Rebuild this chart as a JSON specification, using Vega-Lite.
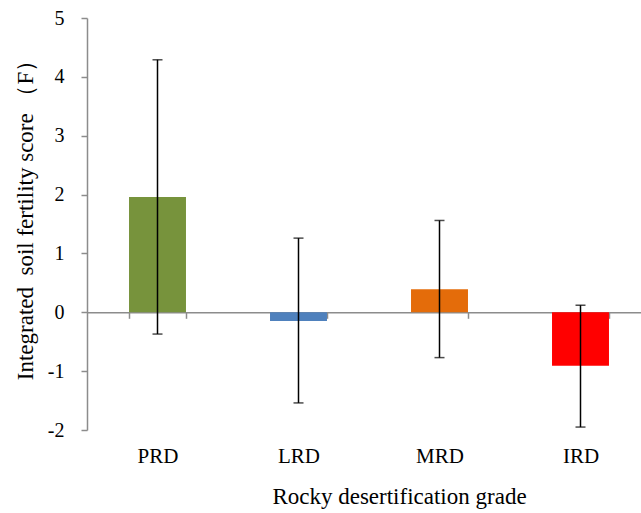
{
  "$schema": "https://vega.github.io/schema/vega-lite/v6.json",
  "autosize": {"type": "none"},
  "padding": {"left": 87, "top": 18, "right": 0, "bottom": 83},
  "width": 554,
  "height": 412,
  "background": "white",
  "config": {
    "view": {"stroke": null},
    "font": "Liberation Serif"
  },
  "data": {
    "values": [
      {"grade": "PRD", "score": 1.96, "lo": -0.37, "hi": 4.29},
      {"grade": "LRD", "score": -0.15, "lo": -1.54, "hi": 1.26},
      {"grade": "MRD", "score": 0.39, "lo": -0.77, "hi": 1.56},
      {"grade": "IRD", "score": -0.91, "lo": -1.95, "hi": 0.12}
    ]
  },
  "encoding": {
    "x": {
      "field": "grade",
      "type": "nominal",
      "sort": ["PRD", "LRD", "MRD", "IRD"],
      "scale": {"range": [0, 564], "paddingInner": 0.596, "paddingOuter": 0.298},
      "axis": {
        "orient": "bottom",
        "offset": -117.7,
        "labelAngle": 0,
        "domainColor": "#8c8c8c",
        "domainWidth": 1.5,
        "tickColor": "#8c8c8c",
        "tickWidth": 1.5,
        "tickSize": 6,
        "tickBand": "extent",
        "labelPadding": 127,
        "labelBaseline": "top",
        "labelFont": "Liberation Serif",
        "labelFontSize": 21,
        "labelColor": "#000000",
        "title": "Rocky desertification grade",
        "titleFont": "Liberation Serif",
        "titleFontSize": 23,
        "titleFontWeight": "normal",
        "titleColor": "#000000",
        "titleBaseline": "top",
        "titleAlign": "center",
        "titleX": 312,
        "titleY": 173
      }
    }
  },
  "layer": [
    {
      "mark": {"type": "bar"},
      "encoding": {
        "y": {
          "field": "score",
          "type": "quantitative",
          "scale": {"domain": [-2, 5], "nice": false, "zero": false},
          "axis": {
            "values": [-2, -1, 0, 1, 2, 3, 4, 5],
            "labelExpr": "'' + datum.value",
            "grid": false,
            "domainColor": "#8c8c8c",
            "domainWidth": 1.5,
            "tickColor": "#8c8c8c",
            "tickWidth": 1.5,
            "tickSize": 6,
            "labelPadding": 17,
            "labelFont": "Liberation Serif",
            "labelFontSize": 20,
            "labelColor": "#000000",
            "title": "Integrated\u00a0\u00a0soil fertility score\u00a0（F）",
            "titleFont": "Liberation Serif",
            "titleFontSize": 23,
            "titleFontWeight": "normal",
            "titleColor": "#000000",
            "titleBaseline": "alphabetic",
            "titleAngle": -90,
            "titleAlign": "center",
            "titleX": -55,
            "titleY": 196
          }
        },
        "color": {
          "field": "grade",
          "type": "nominal",
          "scale": {"domain": ["PRD", "LRD", "MRD", "IRD"], "range": ["#77933C", "#4F81BD", "#E46C0A", "#FF0000"]},
          "legend": null
        }
      }
    },
    {
      "mark": {"type": "rule", "color": "#000000", "strokeWidth": 1.5},
      "encoding": {
        "y": {"field": "lo", "type": "quantitative"},
        "y2": {"field": "hi"}
      }
    },
    {
      "mark": {"type": "tick", "color": "#000000", "thickness": 1.5, "size": 10, "orient": "horizontal"},
      "encoding": {
        "y": {"field": "hi", "type": "quantitative"}
      }
    },
    {
      "mark": {"type": "tick", "color": "#000000", "thickness": 1.5, "size": 10, "orient": "horizontal"},
      "encoding": {
        "y": {"field": "lo", "type": "quantitative"}
      }
    }
  ]
}
